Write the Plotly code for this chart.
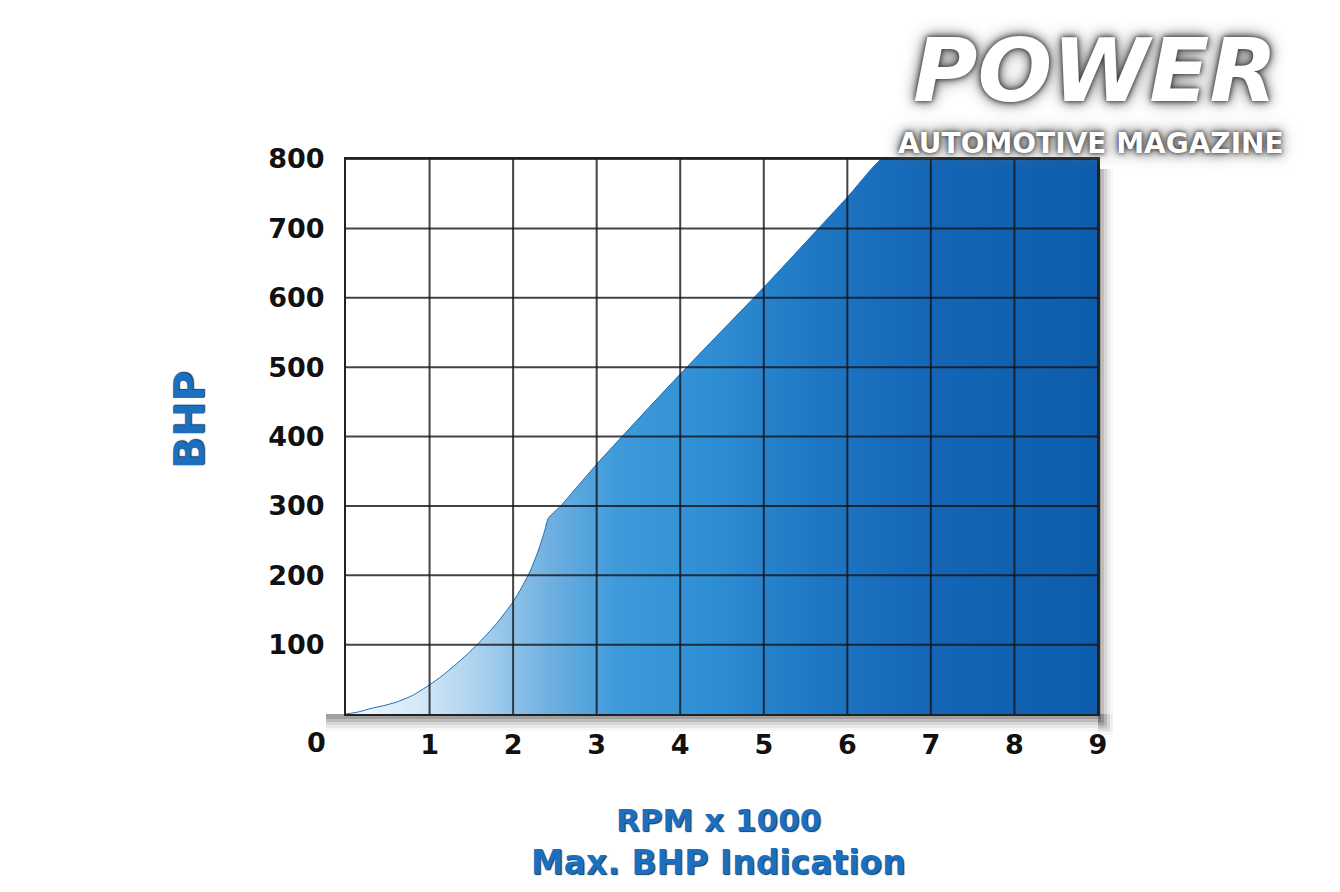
import plotly.graph_objects as go

# Data (RPM x 1000 vs BHP)
rpm = [0.0, 0.15, 0.3, 0.45, 0.6, 0.8, 1.0, 1.15, 1.3, 1.45, 1.57, 1.8, 2.0, 2.1, 2.2, 2.3, 2.38, 2.42, 2.5, 2.57, 3.0, 4.0, 5.0, 6.0, 6.41, 6.5, 9.0]
bhp = [0, 3, 8, 12, 17, 27, 42, 55, 70, 86, 100, 130, 162, 182, 205, 235, 265, 282, 292, 300, 360, 490, 615, 745, 800, 800, 800]

x_ticks = [1, 2, 3, 4, 5, 6, 7, 8, 9]
y_ticks = [100, 200, 300, 400, 500, 600, 700, 800]

BLUE = "#1a6fbf"
FONT = "DejaVu Sans"
GRID = "rgba(20,20,25,0.8)"

fig = go.Figure()

fig.add_trace(go.Scatter(
    x=rpm, y=bhp,
    mode="lines",
    line=dict(color="#1d6bb5", width=1, shape="spline", smoothing=0.6),
    fill="tozeroy",
    fillgradient=dict(
        type="horizontal",
        start=0, stop=9,
        colorscale=[
            [0.0, "#f4f9fd"],
            [0.1, "#d3e7f6"],
            [0.18, "#a8d0ee"],
            [0.27, "#6fb0e0"],
            [0.36, "#3f9ada"],
            [0.48, "#2f8fd4"],
            [0.62, "#1f78c4"],
            [0.78, "#1465b5"],
            [1.0, "#0e5dad"],
        ],
    ),
    hoverinfo="skip",
    showlegend=False,
))

px_w, px_h = 752.0, 555.0
shapes = []

# Drop shadow of the chart panel (paper coordinates)
for i, op in enumerate([0.22, 0.16, 0.11, 0.07, 0.04]):
    off = (i + 1) * 3
    shapes.append(dict(type="rect", xref="paper", yref="paper", layer="below",
                       x0=1.0, x1=1.0 + off / px_w,
                       y0=-(off + 6) / px_h, y1=1.0 - 10 / px_h,
                       fillcolor="rgba(60,60,60,%.2f)" % op, line=dict(width=0)))
    shapes.append(dict(type="rect", xref="paper", yref="paper", layer="below",
                       x0=-20 / px_w, x1=1.0 + off / px_w,
                       y0=-(off + 2) / px_h, y1=0.0,
                       fillcolor="rgba(60,60,60,%.2f)" % op, line=dict(width=0)))

# Grid lines drawn above the filled area, at the tick values
for v in x_ticks:
    shapes.append(dict(type="line", xref="x", yref="y", layer="above",
                       x0=v, x1=v, y0=0, y1=y_ticks[-1],
                       line=dict(color=GRID, width=2)))
for v in y_ticks:
    shapes.append(dict(type="line", xref="x", yref="y", layer="above",
                       x0=0, x1=x_ticks[-1], y0=v, y1=v,
                       line=dict(color=GRID, width=2)))

def py(p):
    return (712 - p) / px_h

def pxx(p):
    return (p - 345) / px_w

TITLE_SHADOW = "1px 1px 1px #0a3a6a"
LOGO_SHADOW = "0px 0px 4px #333333, 0px 0px 10px #555555, 0px 0px 18px #888888"

annotations = [
    dict(text="<b>0</b>", xref="paper", yref="paper",
         x=pxx(315), y=py(740),
         showarrow=False, font=dict(family=FONT, size=27, color="#111111"),
         xanchor="center", yanchor="middle"),
    dict(text="<b>BHP</b>", xref="paper", yref="paper",
         x=pxx(188), y=py(418), textangle=-90,
         showarrow=False,
         font=dict(family=FONT, size=42, color=BLUE, shadow=TITLE_SHADOW),
         xanchor="center", yanchor="middle"),
    dict(text="<b>RPM x 1000</b>", xref="paper", yref="paper",
         x=pxx(717), y=py(838),
         showarrow=False,
         font=dict(family=FONT, size=31, color=BLUE, shadow=TITLE_SHADOW),
         xanchor="center", yanchor="bottom"),
    dict(text="<b>Max. BHP Indication</b>", xref="paper", yref="paper",
         x=pxx(717), y=py(839),
         showarrow=False,
         font=dict(family=FONT, size=33, color=BLUE, shadow=TITLE_SHADOW),
         xanchor="center", yanchor="top"),
    # logo
    dict(text="<b><i>POWER</i></b>", xref="paper", yref="paper",
         x=pxx(1094), y=py(122),
         showarrow=False,
         font=dict(family=FONT, size=88, color="#ffffff", shadow=LOGO_SHADOW),
         xanchor="center", yanchor="bottom"),
    dict(text="<b>AUTOMOTIVE MAGAZINE</b>", xref="paper", yref="paper",
         x=pxx(1090), y=py(123),
         showarrow=False,
         font=dict(family=FONT, size=28, color="#ffffff", shadow=LOGO_SHADOW),
         xanchor="center", yanchor="top"),
]

fig.update_layout(
    width=1340, height=892,
    margin=dict(l=338, r=250, t=151, b=186),
    paper_bgcolor="white",
    plot_bgcolor="white",
    shapes=shapes,
    annotations=annotations,
    xaxis=dict(
        range=[0, 9], tickvals=x_ticks, ticktext=["<b>%d</b>" % v for v in x_ticks],
        showgrid=False,
        showline=True, linecolor="#222222", linewidth=2, mirror=True,
        zeroline=False, ticks="", ticklabelstandoff=6,
        tickfont=dict(family=FONT, size=27, color="#111111"),
        fixedrange=True,
    ),
    yaxis=dict(
        range=[0, 800], tickvals=y_ticks, ticktext=["<b>%d</b>" % v for v in y_ticks],
        showgrid=False,
        showline=True, linecolor="#222222", linewidth=2, mirror=True,
        zeroline=False, ticks="", ticklabelstandoff=14,
        tickfont=dict(family=FONT, size=27, color="#111111"),
        fixedrange=True,
    ),
)

fig.write_html("out.html")
